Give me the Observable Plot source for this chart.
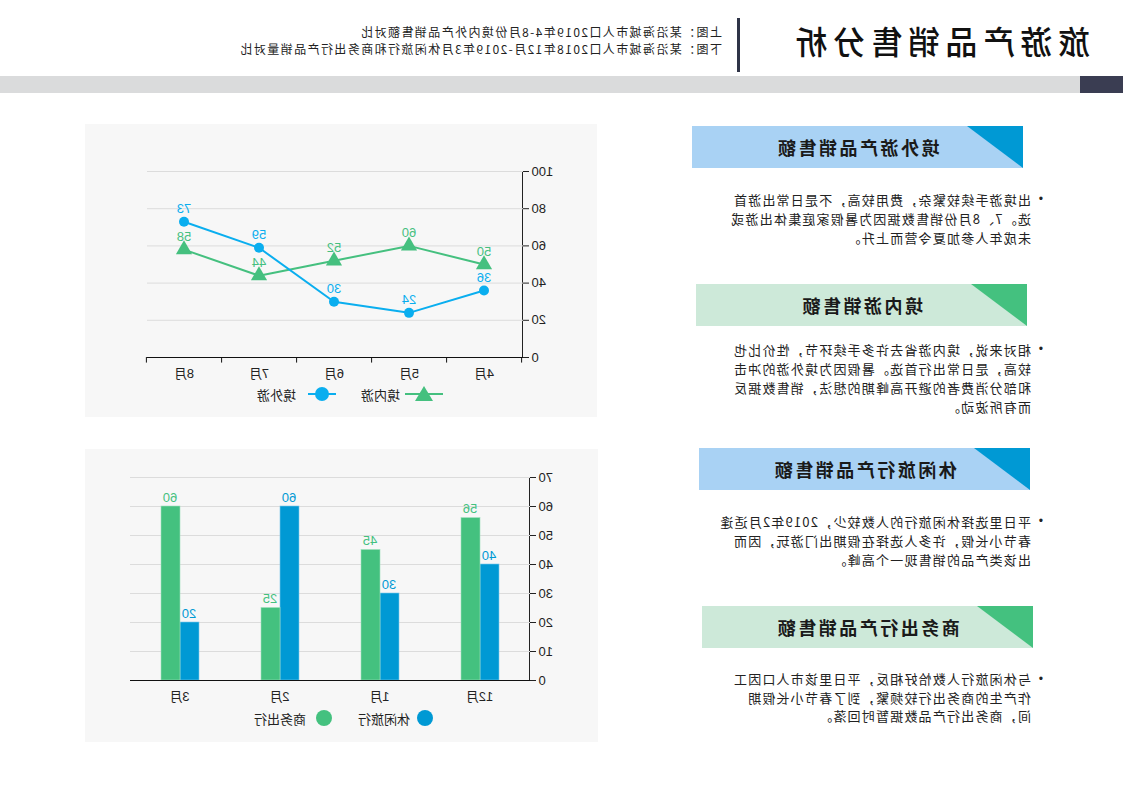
<!DOCTYPE html>
<html><head><meta charset="utf-8">
<script src="https://cdn.jsdelivr.net/npm/d3@7"></script>
<script src="https://cdn.jsdelivr.net/npm/@observablehq/plot@0.6"></script>
<style>
html,body{margin:0;padding:0;background:#fff;}
body{font-family:"Liberation Sans",Arial,"Noto Sans CJK SC",sans-serif;color:#222;}
#page{position:relative;width:1123px;height:794px;overflow:hidden;transform:scaleX(-1);transform-origin:561.5px 397px;}
.abs{position:absolute;}
#title{left:33px;top:16px;font-family:"Noto Sans CJK SC",sans-serif;font-weight:500;font-size:32px;letter-spacing:5.5px;line-height:48px;color:#111;white-space:nowrap;}
#vbar{left:383px;top:18px;width:3px;height:54px;background:#2f3447;}
.sub{left:401px;font-family:"Noto Sans CJK SC",sans-serif;font-size:12px;letter-spacing:1.4px;line-height:15px;height:15px;color:#222;white-space:nowrap;}
#band{left:0;top:76px;width:1123px;height:17px;background:#dadbdc;}
#block{left:0;top:76px;width:43px;height:17px;background:#3a3d52;}
.panel{background:#f7f7f7;}
.card{position:absolute;height:42px;}
.card .tri{position:absolute;left:0;top:0;width:0;height:0;}
.card .ct{position:absolute;left:0;right:0;top:0;line-height:42px;text-align:center;font-family:"Noto Sans CJK SC",sans-serif;font-weight:700;font-size:18px;letter-spacing:2.5px;color:#1a1a1a;}
.txt{position:absolute;font-family:"Noto Sans CJK SC",sans-serif;font-size:13px;letter-spacing:1.2px;line-height:19px;color:#222;white-space:nowrap;}
.bul{position:absolute;font-family:"Liberation Sans",Arial,sans-serif;font-size:12px;line-height:19px;color:#222;}
.legend{position:absolute;display:flex;align-items:center;font-family:"Noto Sans CJK SC",sans-serif;font-size:13px;color:#222;white-space:nowrap;}
.legend svg{display:block;}
</style></head>
<body>
<div id="page">
  <div id="title" class="abs">旅游产品销售分析</div>
  <div id="vbar" class="abs"></div>
  <div class="abs sub" style="top:24px;">上图：某沿海城市人口2019年4-8月份境内外产品销售额对比</div>
  <div class="abs sub" style="top:41px;">下图：某沿海城市人口2018年12月-2019年3月休闲旅行和商务出行产品销量对比</div>
  <div id="band" class="abs"></div>
  <div id="block" class="abs"></div>

  <div id="p1" class="abs panel" style="left:526px;top:124px;width:512px;height:293px;"></div>
  <div id="p2" class="abs panel" style="left:525px;top:449px;width:513px;height:293px;"></div>
</div>
<script>
// ---------- data ----------
const monthsTop = ["4月", "5月", "6月", "7月", "8月"];
const outboundSales = [36, 24, 30, 59, 73];   // 境外游
const domesticSales = [50, 60, 52, 44, 58];   // 境内游
const yTicksTop = [0, 20, 40, 60, 80, 100];

const monthsBottom = ["12月", "1月", "2月", "3月"];
const leisureSales = [40, 30, 60, 20];        // 休闲旅行
const businessSales = [56, 45, 25, 60];       // 商务出行
const yTicksBottom = [0, 10, 20, 30, 40, 50, 60, 70];

const cardTitles = ["境外游产品销售额", "境内游销售额", "休闲旅行产品销售额", "商务出行产品销售额"];
const cardTexts = [
  ["出境游手续较繁杂，费用较高，不是日常出游首", "选。7、8月份销售数据因为暑假家庭集体出游或", "未成年人参加夏令营而上升。"],
  ["相对来说，境内游省去许多手续环节，性价比也", "较高，是日常出行首选。暑假因为境外游的冲击", "和部分消费者的避开高峰期的想法，销售数据反", "而有所波动。"],
  ["平日里选择休闲旅行的人数较少，2019年2月适逢", "春节小长假，许多人选择在假期出门游玩，因而", "出该类产品的销售现一个高峰。"],
  ["与休闲旅行人数恰好相反，平日里该市人口因工", "作产生的商务出行较频繁，到了春节小长假期", "间，商务出行产品数据暂时回落。"]
];

// ---------- styles ----------
const blueTop = "#0aaeef", greenTop = "#45c07f";
const blue = "#0099d4", green = "#44c17f";
const font = '"Liberation Sans", Arial, "Noto Sans CJK SC", sans-serif';
const page = document.getElementById("page");

// ---------- cards ----------
const cardGeo = [
  {left: 100, top: 126, bg: "#a9d2f4", tri: blue, textTop: 190},
  {left: 96, top: 284, bg: "#cde9d9", tri: green, textTop: 340},
  {left: 93, top: 448, bg: "#a9d2f4", tri: blue, textTop: 512},
  {left: 90, top: 606, bg: "#cde9d9", tri: green, textTop: 670}
];
cardTitles.forEach((t, i) => {
  const g = cardGeo[i];
  const c = document.createElement("div");
  c.className = "card";
  c.style.cssText = `left:${g.left}px;top:${g.top}px;width:331px;background:${g.bg};`;
  c.innerHTML = `<div class="tri" style="border-top:42px solid ${g.tri};border-right:56px solid transparent;"></div><div class="ct">${t}</div>`;
  page.appendChild(c);
  const b = document.createElement("div");
  b.className = "bul";
  b.style.cssText = `left:80px;top:${g.textTop}px;`;
  b.textContent = "•";
  page.appendChild(b);
  const tx = document.createElement("div");
  tx.className = "txt";
  tx.style.cssText = `left:92px;top:${g.textTop}px;` + (i === 3 ? "line-height:18.5px;" : "");
  tx.innerHTML = cardTexts[i].join("<br>");
  page.appendChild(tx);
});

// ---------- top chart ----------
const topData = monthsTop.map((m, i) => ({month: m, outbound: outboundSales[i], domestic: domesticSales[i]}));
const stepTop = 376 / monthsTop.length;
const chartTop = Plot.plot({
  width: 512, height: 262,
  marginLeft: 74, marginRight: 62, marginTop: 47, marginBottom: 29,
  style: {background: "transparent", fontSize: "13px", fontFamily: font, color: "#222"},
  x: {type: "band", domain: monthsTop, padding: 0, label: null, tickSize: 0, tickPadding: 11},
  y: {domain: [0, 100], ticks: yTicksTop, label: null, line: true, tickSize: 6, tickPadding: 3},
  marks: [
    Plot.ruleY(yTicksTop.slice(1), {stroke: "#dcdcdc", strokeWidth: 1}),
    Plot.ruleY([0], {stroke: "#111", strokeWidth: 1.2}),
    Plot.ruleX(monthsTop, {x: d => d, y1: 0, y2: -3, dx: -stepTop / 2, stroke: "#111"}),
    Plot.ruleX(monthsTop.slice(-1), {x: d => d, y1: 0, y2: -3, dx: stepTop / 2, stroke: "#111"}),
    Plot.line(topData, {x: "month", y: "domestic", stroke: greenTop, strokeWidth: 2}),
    Plot.line(topData, {x: "month", y: "outbound", stroke: blueTop, strokeWidth: 2}),
    Plot.dot(topData, {x: "month", y: "domestic", symbol: "triangle", r: 6, fill: greenTop, stroke: "none"}),
    Plot.dot(topData, {x: "month", y: "outbound", symbol: "circle", r: 5, fill: blueTop, stroke: "none"}),
    Plot.text(topData, {x: "month", y: "domestic", text: d => String(d.domestic), dy: -13, fill: greenTop, fontSize: 13}),
    Plot.text(topData, {x: "month", y: "outbound", text: d => String(d.outbound), dy: -13, fill: blueTop, fontSize: 13})
  ]
});
chartTop.style.position = "absolute";
chartTop.style.left = "526px";
chartTop.style.top = "124px";
page.appendChild(chartTop);

const lg1 = document.createElement("div");
lg1.className = "legend";
lg1.style.cssText = "left:680px;top:385px;height:18px;";
lg1.innerHTML = `
 <svg width="38" height="18"><line x1="0" y1="9" x2="38" y2="9" stroke="${greenTop}" stroke-width="2"/><path d="M19,1 L28,16 L10,16 Z" fill="${greenTop}"/></svg>
 <span style="margin-left:5px;">境内游</span>
 <svg style="margin-left:25px;" width="28" height="18"><line x1="0" y1="9" x2="28" y2="9" stroke="${blueTop}" stroke-width="2"/><circle cx="14" cy="9" r="7" fill="${blueTop}"/></svg>
 <span style="margin-left:12px;">境外游</span>`;
page.appendChild(lg1);

// ---------- bottom chart ----------
const botData = monthsBottom.map((m, i) => ({month: m, leisure: leisureSales[i], business: businessSales[i]}));
const chartBot = Plot.plot({
  width: 513, height: 260,
  marginLeft: 68, marginRight: 45, marginTop: 28, marginBottom: 29,
  style: {background: "transparent", fontSize: "13px", fontFamily: font, color: "#222"},
  x: {domain: monthsBottom, paddingInner: 0.62, paddingOuter: 0.31, label: null, tickSize: 0, tickPadding: 11},
  y: {domain: [0, 70], ticks: yTicksBottom, label: null, line: true, tickSize: 6, tickPadding: 3},
  marks: [
    Plot.ruleY(yTicksBottom.slice(1), {stroke: "#dcdcdc", strokeWidth: 1}),
    Plot.barY(botData, {x: "month", y: "leisure", fill: blue, insetRight: 19, stroke: "#7cc8ea", strokeWidth: 0.6}),
    Plot.barY(botData, {x: "month", y: "business", fill: green, insetLeft: 19, stroke: "#9fe0bd", strokeWidth: 0.6}),
    Plot.ruleY([0], {stroke: "#111", strokeWidth: 1.2}),
    Plot.text(botData, {x: "month", y: "leisure", text: d => String(d.leisure), dx: -9.5, dy: -9, fill: blue, fontSize: 13}),
    Plot.text(botData, {x: "month", y: "business", text: d => String(d.business), dx: 9.5, dy: -9, fill: green, fontSize: 13})
  ]
});
chartBot.style.position = "absolute";
chartBot.style.left = "525px";
chartBot.style.top = "449px";
page.appendChild(chartBot);

const lg2 = document.createElement("div");
lg2.className = "legend";
lg2.style.cssText = "left:689px;top:709px;height:18px;";
lg2.innerHTML = `
 <svg width="18" height="18"><circle cx="9" cy="9" r="8" fill="${blue}"/></svg>
 <span style="margin-left:6px;">休闲旅行</span>
 <svg style="margin-left:25px;" width="18" height="18"><circle cx="9" cy="9" r="8" fill="${green}"/></svg>
 <span style="margin-left:9px;">商务出行</span>`;
page.appendChild(lg2);
</script>
</body></html>
